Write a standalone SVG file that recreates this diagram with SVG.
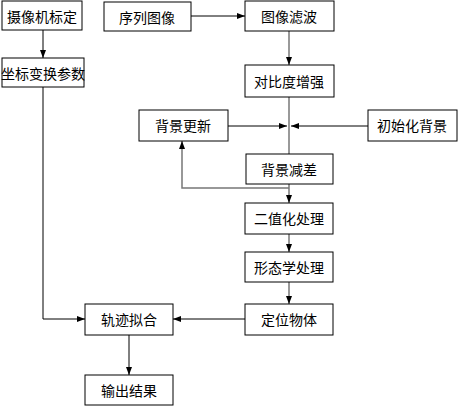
<svg xmlns="http://www.w3.org/2000/svg" width="464" height="418" viewBox="0 0 464 418">
<style>
.box{fill:#fff;stroke:#000;stroke-width:1}
.t{font-family:"Noto Sans CJK SC","Liberation Sans",sans-serif;font-size:14px;fill:#000;text-anchor:middle;dominant-baseline:central}
.c{fill:none;stroke:#000;stroke-width:1}
.g{fill:none;stroke:#777;stroke-width:1.5}
</style>
<defs>
<marker id="a" viewBox="0 0 8 6" refX="8" refY="3" markerWidth="8" markerHeight="6" markerUnits="userSpaceOnUse" orient="auto">
<path d="M0,0 L8,3 L0,6 Z" fill="#000"/>
</marker>
</defs>
<rect width="464" height="418" fill="#fff"/>
<g id="connectors">
<path class="c" d="M43,30 V58" marker-end="url(#a)"/>
<path class="c" d="M191,16 H245" marker-end="url(#a)"/>
<path class="g" d="M289,31 V65" marker-end="url(#a)"/>
<path class="g" d="M289,97 V154"/>
<path class="c" d="M228,126 H287" marker-end="url(#a)"/>
<path class="c" d="M368,126 H291" marker-end="url(#a)"/>
<path class="g" d="M289,184 V203" marker-end="url(#a)"/>
<path class="g" d="M289,188 H182 V141" marker-end="url(#a)"/>
<path class="g" d="M289,234 V252" marker-end="url(#a)"/>
<path class="g" d="M289,282 V304" marker-end="url(#a)"/>
<path class="c" d="M245,319 H173" marker-end="url(#a)"/>
<path class="c" d="M43,87 V319 H85" marker-end="url(#a)"/>
<path class="c" d="M129,335 V375" marker-end="url(#a)"/>
</g>
<g id="n1"><rect class="box" x="2" y="1" width="80" height="29"/><text class="t" x="42" y="16">摄像机标定</text></g>
<g id="n2"><rect class="box" x="2" y="58" width="82" height="29"/><text class="t" x="43" y="73">坐标变换参数</text></g>
<g id="n3"><rect class="box" x="104" y="2" width="87" height="29"/><text class="t" x="147" y="17">序列图像</text></g>
<g id="n4"><rect class="box" x="245" y="1" width="89" height="30"/><text class="t" x="289" y="16">图像滤波</text></g>
<g id="n5"><rect class="box" x="245" y="65" width="89" height="32"/><text class="t" x="289" y="81">对比度增强</text></g>
<g id="n6"><rect class="box" x="139" y="110" width="89" height="31"/><text class="t" x="183" y="125">背景更新</text></g>
<g id="n7"><rect class="box" x="368" y="110" width="89" height="31"/><text class="t" x="412" y="125">初始化背景</text></g>
<g id="n8"><rect class="box" x="246" y="154" width="87" height="30"/><text class="t" x="289" y="169">背景减差</text></g>
<g id="n9"><rect class="box" x="245" y="203" width="88" height="31"/><text class="t" x="289" y="218">二值化处理</text></g>
<g id="n10"><rect class="box" x="245" y="252" width="88" height="30"/><text class="t" x="289" y="267">形态学处理</text></g>
<g id="n11"><rect class="box" x="245" y="304" width="88" height="31"/><text class="t" x="289" y="319">定位物体</text></g>
<g id="n12"><rect class="box" x="85" y="304" width="88" height="31"/><text class="t" x="129" y="319">轨迹拟合</text></g>
<g id="n13"><rect class="box" x="85" y="375" width="88" height="30"/><text class="t" x="129" y="390">输出结果</text></g>
</svg>
